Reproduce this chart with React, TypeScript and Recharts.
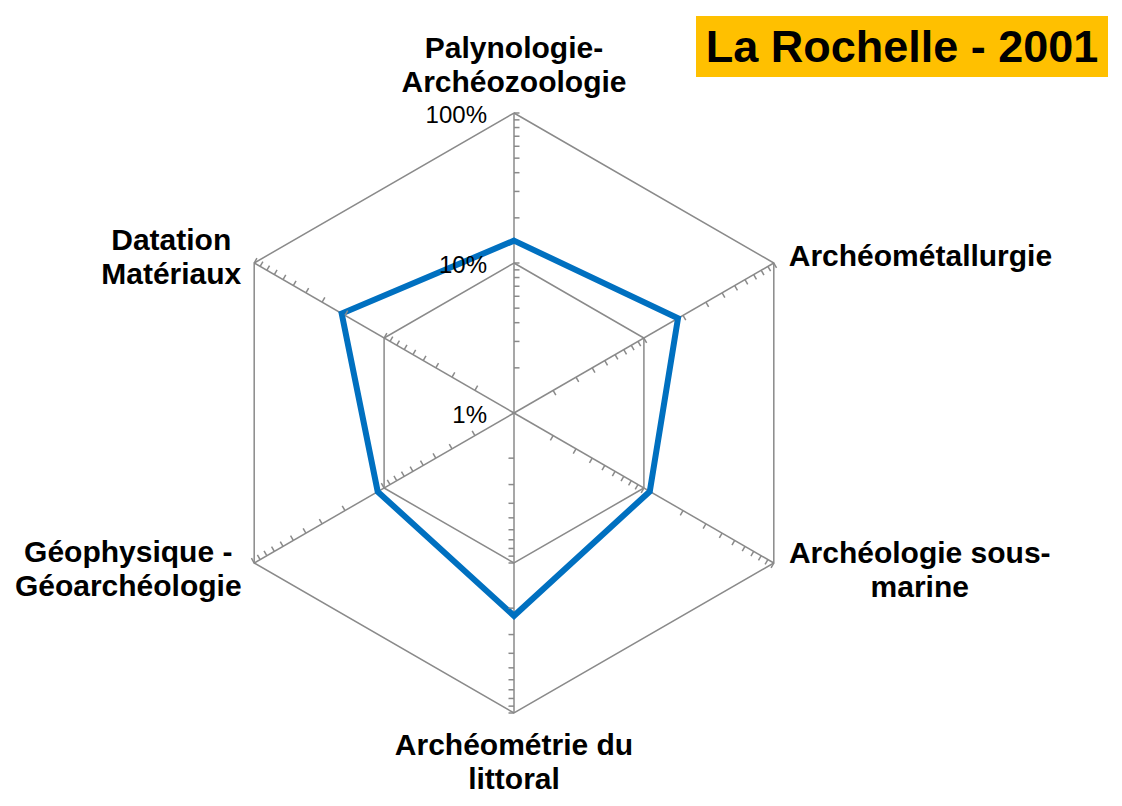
import React from 'react';
import { RadarChart, Radar, PolarGrid, PolarAngleAxis, PolarRadiusAxis } from 'recharts';

const categories = [
  'Palynologie-\nArchéozoologie',
  'Archéométallurgie',
  'Archéologie sous-\nmarine',
  'Archéométrie du\nlittoral',
  'Géophysique -\nGéoarchéologie',
  'Datation\nMatériaux',
];
const values = [14.1, 18.3, 11.1, 22.5, 11.2, 21.2];
const majorTicks = [1, 10, 100];
const minorTicks = [2, 3, 4, 5, 6, 7, 8, 9, 10, 20, 30, 40, 50, 60, 70, 80, 90, 100];
const spokeAngles = [90, 30, -30, -90, -150, 150];
const title = 'La Rochelle - 2001';

const data = categories.map((name, i) => ({ name, value: values[i] }));

const FONT = '"Liberation Sans", Arial, sans-serif';
const GRID = '#8a8a8a';

const labelLayout = [
  { dx: 0, dy: -47, anchor: 'middle' },
  { dx: 8, dy: 7, anchor: 'start' },
  { dx: 139, dy: -4, anchor: 'middle' },
  { dx: 0, dy: 34, anchor: 'middle' },
  { dx: -119, dy: -5, anchor: 'middle' },
  { dx: -76, dy: -9, anchor: 'middle' },
];

const AngleTick = (props: any) => {
  const { x, y, payload, index } = props;
  const lay = labelLayout[index] || { dx: 0, dy: 0, anchor: 'middle' };
  const lines = String(payload.value).split('\n');
  return (
    <text
      x={x + lay.dx}
      y={y + lay.dy}
      textAnchor={lay.anchor}
      fontFamily={FONT}
      fontWeight="bold"
      fontSize={30}
      fill="#000"
    >
      {lines.map((l, i) => (
        <tspan key={i} x={x + lay.dx} dy={i === 0 ? 0 : 34}>
          {l}
        </tspan>
      ))}
    </text>
  );
};

const MajorTick = (props: any) => {
  const { x, y, payload } = props;
  return (
    <text
      x={x - 27}
      y={y + 1}
      textAnchor="end"
      dominantBaseline="central"
      fontFamily={FONT}
      fontSize={24}
      fill="#000"
    >
      {`${payload.value}%`}
    </text>
  );
};

const makeMinorTick = (angleDeg: number) => (props: any) => {
  const { x, y } = props;
  const t = (angleDeg * Math.PI) / 180;
  const len = 5.5;
  return (
    <line
      x1={x}
      y1={y}
      x2={x + len * Math.sin(t)}
      y2={y + len * Math.cos(t)}
      stroke={GRID}
      strokeWidth={1.5}
    />
  );
};

export default function App() {
  return (
    <div
      style={{
        position: 'absolute',
        left: 0,
        top: 0,
        width: 1122,
        height: 806,
        background: '#fff',
        fontFamily: FONT,
        overflow: 'hidden',
      }}
    >
      <RadarChart
        width={1122}
        height={806}
        data={data}
        cx={514}
        cy={413}
        outerRadius={300}
        startAngle={90}
        endAngle={-270}
        margin={{ top: 0, right: 0, bottom: 0, left: 0 }}
      >
        <PolarGrid gridType="polygon" stroke={GRID} strokeWidth={1.5} />
        <PolarAngleAxis dataKey="name" tick={<AngleTick />} tickLine={false} axisLine={false} />
        <PolarRadiusAxis
          radiusAxisId={0}
          angle={90}
          scale="log"
          domain={[1, 100]}
          allowDataOverflow
          ticks={majorTicks}
          axisLine={false}
          tick={MajorTick}
        />
        {spokeAngles.map((a, i) => (
          <PolarRadiusAxis
            key={`ax${i}`}
            radiusAxisId={`t${i}`}
            angle={a}
            scale="log"
            domain={[1, 100]}
            allowDataOverflow
            ticks={minorTicks}
            axisLine={false}
            tick={makeMinorTick(a)}
          />
        ))}
        {spokeAngles.map((a, i) => (
          <Radar
            key={`hid${i}`}
            dataKey="value"
            radiusAxisId={`t${i}`}
            stroke="none"
            fill="none"
            fillOpacity={0}
            dot={false}
            isAnimationActive={false}
          />
        ))}
        <Radar
          dataKey="value"
          radiusAxisId={0}
          stroke="#0070C0"
          strokeWidth={6}
          fill="none"
          fillOpacity={0}
          dot={false}
          isAnimationActive={false}
        />
      </RadarChart>
      <div
        style={{
          position: 'absolute',
          left: 696,
          top: 16,
          width: 412,
          height: 61,
          background: '#FFC000',
          color: '#000',
          fontWeight: 'bold',
          fontSize: 45,
          lineHeight: '61px',
          textAlign: 'center',
          fontFamily: FONT,
        }}
      >
        {title}
      </div>
    </div>
  );
}
